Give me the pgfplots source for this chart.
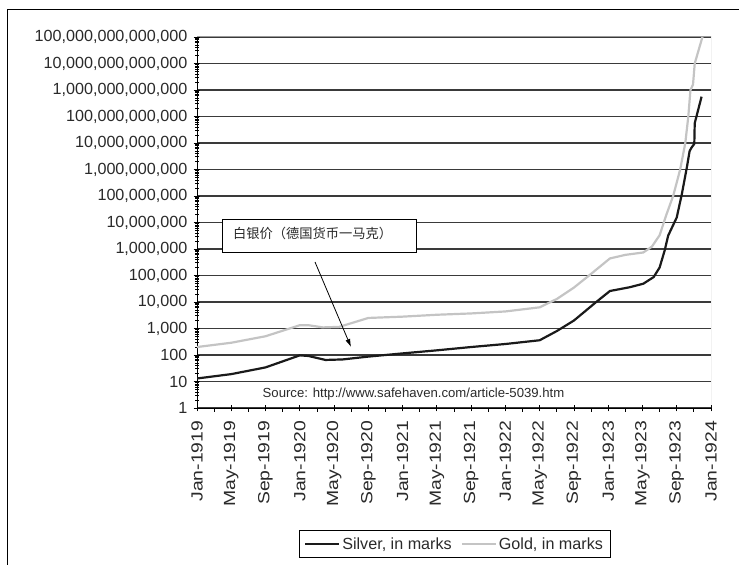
\documentclass[border=0pt]{standalone}
\usepackage{graphicx}
\usepackage{pgfplots}
\pgfplotsset{compat=1.18}
\usepackage{fontspec}
\setmainfont{Liberation Sans}
\newfontfamily\cjk{Noto Sans CJK SC}
\usetikzlibrary{arrows.meta}
\definecolor{txt}{HTML}{2A2A2A}
\definecolor{gridc}{HTML}{3A3A3A}
\definecolor{silverc}{HTML}{1A1A1A}
\definecolor{goldc}{HTML}{C4C4C4}
\definecolor{borderc}{HTML}{9A9A9A}
\newcommand\xl[1]{\scalebox{1.2}[1]{#1}}
\def\myminor{1}
\foreach \e in {0,...,13}{\foreach \m in {2,...,9}{\xdef\myminor{\myminor,\m e\e}}}
\begin{document}
\begin{tikzpicture}
\path[use as bounding box] (0bp,0bp) rectangle (739bp,565bp);
\begin{axis}[
  at={(197bp,157bp)}, anchor=south west,
  scale only axis, width=514bp, height=371bp,
  ymode=log, ymin=1, ymax=1e14, xmin=0, xmax=60,
  axis lines*=left, axis line style={-, black, line width=1bp},
  ytick={1,10,100,1000,1e4,1e5,1e6,1e7,1e8,1e9,1e10,1e11,1e12,1e13,1e14},
  yticklabels={1,10,100,{1,000},{10,000},{100,000},{1,000,000},{10,000,000},{100,000,000},{1,000,000,000},{10,000,000,000},{100,000,000,000},{1,000,000,000,000},{10,000,000,000,000},{100,000,000,000,000}},
  minor ytick/.expanded={\myminor},
  ytick align=center, xtick align=center,
  major tick length=7bp, minor tick length=4bp,
  tick style={black, line width=0.8bp},
  xtick={0,4,...,60},
  xticklabels={\xl{Jan-1919},\xl{May-1919},\xl{Sep-1919},\xl{Jan-1920},\xl{May-1920},\xl{Sep-1920},\xl{Jan-1921},\xl{May-1921},\xl{Sep-1921},\xl{Jan-1922},\xl{May-1922},\xl{Sep-1922},\xl{Jan-1923},\xl{May-1923},\xl{Sep-1923},\xl{Jan-1924}},
  extra x ticks={2,6,...,58}, extra x tick labels={},
  extra x tick style={tick align=outside, major tick length=4bp},
  xticklabel style={yshift=-9bp, rotate=90, anchor=east, font=\fontsize{16.2}{18}\selectfont, text=txt, inner sep=0pt},
  yticklabel style={font=\fontsize{16.2}{18}\selectfont, text=txt, inner sep=0pt, xshift=-6bp},
  ymajorgrids, major grid style={gridc, line width=1.1bp},
  legend style={at={(0.501,-0.3666)}, anchor=center, draw=black, line width=0.8bp,
    font=\fontsize{16.2}{18}\selectfont, text=txt, inner xsep=5bp, inner ysep=5bp,
    legend columns=2, /tikz/every even column/.append style={column sep=7bp}},
  legend image code/.code={\draw[#1] (0bp,0bp) -- (34bp,0bp);},
  clip=true,
]
\addplot[silverc, line width=2.2bp] coordinates {
(0,13) (4,19) (8,34) (12,97) (13,92) (15,65) (17,68) (20,87) (24,115) (28,150)
(32,200) (36,260) (40,360) (42,800) (44,2000) (46.6,10000) (48.2,26000)
(50.5,36000) (52.1,49000) (53.3,87000) (54.0,2.0e5) (54.6,9e5) (55.0,3.2e6)
(56.0,1.55e7) (56.6,1.2e8) (57.2,1.3e9) (57.5,4.9e9) (57.7,6.5e9) (58.05,9.3e9)
(58.1,5.6e10) (58.9,5.6e11)
};
\addlegendentry{Silver, in marks}
\addplot[goldc, line width=2.2bp] coordinates {
(0,200) (4,290) (8,510) (12,1330) (13,1330) (14.7,1100) (16.6,1150) (20,2500)
(24,2800) (28,3300) (32,3700) (36,4400) (40,6300) (42,13000) (44,35000)
(46,1.15e5) (48.2,4.4e5) (50,6e5) (52.1,7.4e5) (53.1,1.23e6) (54.0,3.3e6)
(54.8,2.0e7) (55.6,1.05e8) (56.4,1e9) (57.0,1e10) (57.35,1e11) (57.6,1e12)
(57.9,1.6e12) (58.1,1e13) (59.0,1e14) (59.1,1.3e14)
};
\addlegendentry{Gold, in marks}
\draw[borderc, line width=1bp] (rel axis cs:0,1) -- (rel axis cs:1,1) -- (rel axis cs:1,0);
\end{axis}
\draw[black, line width=0.8bp, fill=white] (222bp,312.5bp) rectangle (416bp,346bp);
\node[anchor=west, font=\cjk\fontsize{13.3}{15}\selectfont, inner sep=0pt, text=txt] at (233bp,332bp) {白银价（德国货币一马克）};
\draw[-{Latex[length=8bp,width=5bp]}, line width=0.8bp] (315bp,303bp) -- (351bp,218bp);
\node[anchor=base, font=\fontsize{13.2}{15}\selectfont, inner sep=0pt, text=txt] at (413.5bp,167bp) {Source: http://www.safehaven.com/article-5039.htm};
\draw[black, line width=1bp] (7.3bp,0bp) -- (7.3bp,555bp) -- (739bp,555bp);
\end{tikzpicture}
\end{document}
